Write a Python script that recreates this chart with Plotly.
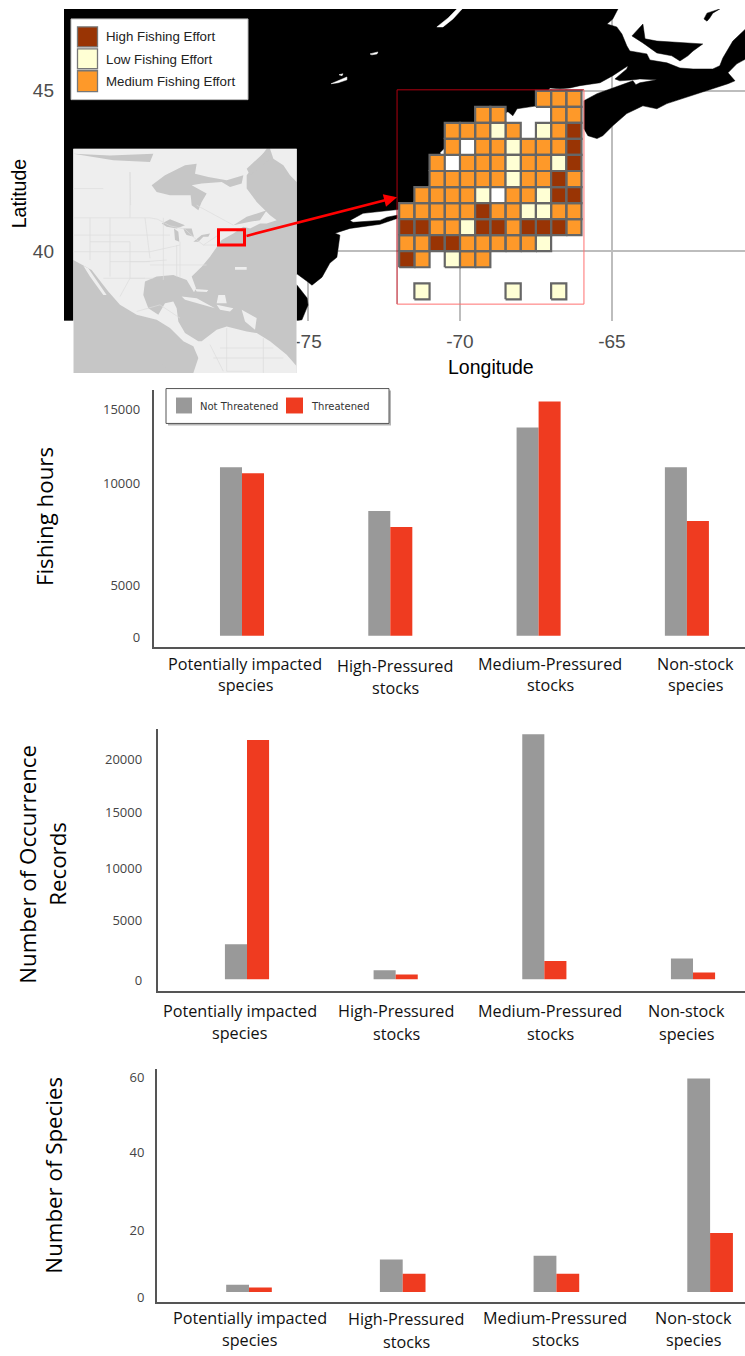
import plotly.graph_objects as go

W, H = 745, 1356

# ---------- data ----------
categories = ["Potentially impacted|species", "High-Pressured|stocks", "Medium-Pressured|stocks", "Non-stock|species"]
hours_not = [11050, 8170, 13660, 11050]
hours_thr = [10650, 7120, 15360, 7520]
records_not = [3195, 840, 22260, 1900]
records_thr = [21750, 450, 1670, 630]
species_not = [2, 9, 10, 59]
species_thr = [1.2, 5, 5, 16.3]

effort_rows = [
    "         MMM",
    "     MM   MM",
    "   MMMLM LMH",
    "   M MMLMMMH",
    "  M MMMLMMLH",
    "  MMMMMLMMHM",
    " MMMML MMLHH",
    "MMMMMHMMLLMM",
    "HHMMLHHMHHHM",
    "MMHHMMMMML  ",
    "HM LMM      ",
    "            ",
    " L     L  L ",
]
effort_lon0, effort_lat0, effort_step = -72.0, 45.0, 0.5
effort_colors = {"H": "#993404", "L": "#ffffd4", "M": "#fe9929"}
effort_names = {"H": "High Fishing Effort", "L": "Low Fishing Effort", "M": "Medium Fishing Effort"}

coast_lon = [-84, -64.80, -64.97, -65.16, -64.84, -64.67, -64.51, -64.41, -63.85, -63.75, -63.19, -62.76, -62.33,
             -61.68, -61.45, -61.35, -61.02, -60.6, -60.6, -60.89, -61.18, -60.95, -61.18, -62.20, -63.19, -63.52,
             -63.98, -64.18, -64.51, -64.97, -65.30, -65.49, -65.79, -65.92, -65.92, -65.49, -64.31, -64.21, -64.08,
             -63.52, -64.08, -64.28, -64.74, -64.90, -64.51, -64.47, -64.97, -65.39, -66.05, -66.38, -66.71, -67.04,
             -67.47, -68.12, -68.26, -68.42, -70.43, -70.49, -70.66, -70.60, -70.76, -71.15, -71.65, -72.04, -73.19, -73.62,
             -73.52, -72.63, -72.40, -72.07, -72.07, -72.63, -73.62, -74.11, -73.95, -74.05, -74.28, -74.54, -74.87,
             -75.00, -75.36, -75.59, -75.36, -75.03, -75.00, -75.20, -75.36, -84]
coast_lat = [47.55, 47.55, 47.24, 47.08, 46.99, 46.77, 46.40, 46.24, 46.15, 45.96, 45.87, 45.71, 45.68,
             45.68, 45.78, 46.02, 46.55, 46.93, 45.99, 45.84, 45.56, 45.31, 45.22, 44.91, 44.60, 44.44,
             44.53, 44.44, 44.29, 43.91, 43.60, 43.51, 43.60, 43.82, 44.69, 44.91, 45.31, 45.19, 45.25,
             45.34, 45.37, 45.34, 45.31, 45.37, 45.68, 45.78, 45.47, 45.25, 45.16, 45.09, 45.06, 45.09,
             44.53, 44.44, 44.22, 44.35, 43.45, 43.23, 43.07, 42.95, 42.36, 41.89, 41.43, 41.30, 41.18, 40.96,
             40.90, 40.96, 41.06, 41.12, 41.02, 40.84, 40.71, 40.56, 40.50, 39.81, 39.63, 39.19, 38.94,
             39.04, 39.29, 39.10, 38.94, 38.54, 38.32, 37.86, 37.83, 37.83]
island_lon = [-64.34, -63.98, -63.91, -63.52, -62.01, -62.33, -62.50, -62.76, -63.03, -63.52, -63.98, -64.34, None,
              -61.97, -61.87, -61.45, -61.68, -61.78, -61.87, -61.97]
island_lat = [46.71, 47.08, 46.62, 46.55, 46.46, 46.24, 46.09, 45.93, 46.09, 46.18, 46.49, 46.71, None,
              47.24, 47.42, 47.55, 47.42, 47.27, 47.17, 47.24]
lake_lon = [-70.76, -70.39, -70.10, -69.93, -70.23, -70.56, -70.76, None, -72.96, -72.70, -72.73, -72.90, -72.96, None,
            -74.24, -73.72, -73.72, -74.01, -74.24, None, -73.98, -73.85, -73.88, -73.98]
lake_lat = [46.99, 47.27, 47.55, 47.55, 47.24, 46.99, 46.99, None, 46.15, 46.21, 46.15, 46.12, 46.15, None,
            45.22, 45.43, 45.34, 45.25, 45.22, None, 45.50, 45.53, 45.47, 45.50]

# locator map outlines, in the locator's own map units
inset_land_x = [10, 590, 530, 530, 560, 600, 620, 590, 570, 540, 520, 490, 455, 445, 420, 395, 365, 378, 372, 350, 310, 260, 225,
                220, 235, 265, 285, 310, 320, 325, 345, 385, 395, 440, 470, 530, 560, 600, 650, 680, 680, 370, 385, 370, 340,
                300, 260, 200, 150, 115, 65, 10, 10]
inset_land_y = [10, 10, 90, 130, 170, 210, 225, 235, 235, 250, 245, 265, 285, 300, 335, 365, 395, 430, 442, 405, 390, 395, 410,
                450, 490, 510, 475, 470, 490, 530, 565, 590, 590, 555, 545, 560, 565, 590, 630, 665, 685, 685, 640, 605, 590,
                550, 525, 510, 480, 440, 375, 345, 10]
inset_isle_x = [40, 55, 110, 100, 60, 40, None, 335, 380, 435, 400, 345, 335, None, 440, 490, 480, 450, 440, None,
                445, 465, 470, 440, 445, None, 600, 680, 680, 660, 640, 610, 600, None, 515, 560, 555, 525, 515, None,
                495, 530, 530, 495, 495, None, 375, 415, 410, 380, 375]
inset_isle_y = [362, 370, 450, 450, 395, 362, None, 455, 460, 490, 480, 465, 455, None, 480, 490, 500, 495, 480, None,
                450, 450, 475, 475, 450, None, 10, 10, 110, 90, 60, 40, 10, None, 495, 520, 555, 530, 495, None,
                366, 366, 374, 374, 366, None, 432, 435, 441, 440, 432]
inset_water_x = [245, 285, 345, 380, 375, 415, 470, 520, 515, 480, 455, 395, 365, 410, 395, 385, 365, 362, 300, 260, 245, None,
                 490, 530, 590, 570, 540, 510, 490, None, 275, 300, 345, 320, 290, 275, None, 312, 325, 328, 315, 312, None,
                 340, 365, 372, 350, 345, 340, None, 370, 395, 420, 415, 400, 385, 370, None,
                 10, 120, 250, 240, 130, 10, None, 595, 600, 540, 530, 595, None, 270, 300, 290, 270]
inset_water_y = [120, 90, 60, 55, 85, 95, 105, 90, 115, 125, 110, 115, 120, 145, 170, 195, 180, 150, 150, 140, 120, None,
                 240, 215, 195, 225, 230, 235, 240, None, 235, 222, 240, 250, 245, 235, None, 250, 260, 290, 285, 250, None,
                 250, 250, 275, 270, 262, 250, None, 290, 270, 265, 275, 275, 290, 290, None,
                 25, 30, 25, 50, 45, 25, None, 10, 40, 90, 70, 10, None, 655, 655, 672, 655]
border_x = [10, 240, 262, 300, None, 300, 345, 375, 400, 445, None, 60, 60, None, 120, 120, None, 180, 180, None, 225, 240, None, 10, 300, None,
            10, 240, None, 240, 330, None, 280, 280, None, 330, 330, None, 400, 440, None, 120, 225, 290, None, 100, 225, None, 180, 180, None,
            60, 180, 180, 240, None, 320, 320, None, 10, 100, None, 240, 410, None, 150, 180, 250, None, 200, 270, 330, None, 420, 460, None,
            450, 610, None, 470, 470, 540, None, 580, 580, None, 430, 640, None, 180, 182, None, 380, 490]
border_y = [218, 218, 222, 242, None, 242, 252, 280, 300, 270, None, 218, 345, None, 218, 395, None, 80, 218, None, 218, 340, None, 270, 270, None,
            320, 320, None, 320, 300, None, 218, 405, None, 290, 395, None, 300, 300, None, 350, 350, 345, None, 400, 400, None, 350, 400, None,
            290, 290, 350, 350, None, 300, 395, None, 130, 130, None, 360, 360, None, 455, 400, 400, None, 500, 480, 520, None, 600, 680, None,
            610, 610, None, 550, 680, 680, None, 580, 685, None, 640, 640, None, 80, 180, None, 180, 240]

map_y_labels = ["40", "45"]
map_y_vals = [40, 45]
map_x_labels = ["-75", "-70", "-65"]
map_x_vals = [-75, -70, -65]

# ---------- helpers ----------
def px(v): return v / W
def py(v): return 1 - v / H

fig = go.Figure()
shapes, annotations = [], []

def text(x, y, s, size, family, color="#000000", angle=0, xanchor="center"):
    annotations.append(dict(x=px(x), y=py(y), xref="paper", yref="paper", text=s, showarrow=False,
                            xanchor=xanchor, yanchor="middle", textangle=angle,
                            font=dict(size=size, family=family, color=color)))

def rect(x0, y0, x1, y1, fill=None, line=None, lw=1):
    shapes.append(dict(type="rect", xref="paper", yref="paper", x0=px(x0), x1=px(x1), y0=py(y0), y1=py(y1),
                       fillcolor=fill or "rgba(0,0,0,0)", line=dict(color=line or "rgba(0,0,0,0)", width=lw if line else 0),
                       layer="above"))

ARIAL = "Liberation Sans, Arial, sans-serif"
HEAD = "Open Sans, sans-serif"

# ---------- map ----------
fig.add_trace(go.Scatter(x=coast_lon, y=coast_lat, mode="lines", fill="toself", fillcolor="#000000",
                         line=dict(color="#000000", width=0.5), hoverinfo="skip", showlegend=False, xaxis="x", yaxis="y"))
fig.add_trace(go.Scatter(x=island_lon, y=island_lat, mode="lines", fill="toself", fillcolor="#000000",
                         line=dict(color="#000000", width=0.5), hoverinfo="skip", showlegend=False, xaxis="x", yaxis="y"))
fig.add_trace(go.Scatter(x=lake_lon, y=lake_lat, mode="lines", fill="toself", fillcolor="#ffffff",
                         line=dict(color="#ffffff", width=0.5), hoverinfo="skip", showlegend=False, xaxis="x", yaxis="y"))

for level in ["M", "L", "H"]:
    xs, ys = [], []
    for r, row in enumerate(effort_rows):
        for c, code in enumerate(row):
            if code == level:
                x0 = effort_lon0 + c * effort_step
                y1 = effort_lat0 - r * effort_step
                x1, y0 = x0 + effort_step, y1 - effort_step
                xs += [x0, x1, x1, x0, x0, None]
                ys += [y0, y0, y1, y1, y0, None]
    fig.add_trace(go.Scatter(x=xs, y=ys, mode="lines", fill="toself", fillcolor=effort_colors[level],
                             line=dict(color="#666666", width=2.2), name=effort_names[level],
                             showlegend=False, hoverinfo="name", xaxis="x", yaxis="y"))

# study-area frame
fig.add_trace(go.Scatter(x=[-72.07, -72.07, -65.92], y=[38.35, 45.03, 45.03], mode="lines",
                         line=dict(color="#b00010", width=1), hoverinfo="skip", showlegend=False, xaxis="x", yaxis="y"))
fig.add_trace(go.Scatter(x=[-72.07, -65.92, -65.92], y=[38.35, 38.35, 45.03], mode="lines",
                         line=dict(color="#ff7070", width=1), hoverinfo="skip", showlegend=False, xaxis="x", yaxis="y"))

# ---------- bars ----------
GREY, RED = "#999999", "#ef3b20"
names = ["Not Threatened", "Threatened"]
for i, (a, b) in enumerate([(hours_not, hours_thr), (records_not, records_thr), (species_not, species_thr)], start=2):
    for vals, col, nm in [(a, GREY, names[0]), (b, RED, names[1])]:
        fig.add_trace(go.Bar(x=list(range(4)), y=vals, marker=dict(color=col, line=dict(width=0)), name=nm,
                             showlegend=False, xaxis=f"x{i}", yaxis=f"y{i}"))

# ---------- locator ----------
fig.add_trace(go.Scatter(x=[10, 680, 680, 10, 10], y=[10, 10, 685, 685, 10], mode="lines", fill="toself", fillcolor="#c6c6c6",
                         line=dict(width=0), hoverinfo="skip", showlegend=False, xaxis="x5", yaxis="y5"))
for xs, ys, col in [(inset_land_x, inset_land_y, "#eeeeee"), (inset_isle_x, inset_isle_y, "#eeeeee"),
                    (inset_water_x, inset_water_y, "#c6c6c6")]:
    fig.add_trace(go.Scatter(x=xs, y=ys, mode="lines", fill="toself", fillcolor=col, line=dict(width=0),
                             hoverinfo="skip", showlegend=False, xaxis="x5", yaxis="y5"))
fig.add_trace(go.Scatter(x=border_x, y=border_y, mode="lines", line=dict(color="#dcdcdc", width=0.7),
                         hoverinfo="skip", showlegend=False, xaxis="x5", yaxis="y5"))

# ---------- overlays ----------
rect(71, 18, 248, 99, fill="#ffffff", line="#bbbbbb", lw=1)
for (y0, y1, code, ty) in [(26, 46, "H", 36), (48, 68, "L", 59), (70, 91, "M", 81)]:
    rect(77.5, y0, 97.5, y1, fill=effort_colors[code], line="#777777", lw=1.3)
    text(103.5, ty, effort_names[code], 13.3, ARIAL, "#222222", xanchor="left")

rect(218.5, 229.5, 244.5, 245, line="#ff0000", lw=3)
annotations.append(dict(x=px(397), y=py(197), ax=245 - 397, ay=236 - 197, xref="paper", yref="paper", axref="pixel", ayref="pixel",
                        text="", showarrow=True, arrowhead=2, arrowsize=1, arrowwidth=2.6, arrowcolor="#ff0000", standoff=0))

# chart-1 legend
rect(168, 391, 391, 426, fill="#b5b5b5")
rect(166, 389, 389, 424, fill="#ffffff", line="#555555", lw=1)
rect(176, 398, 192, 414, fill=GREY)
rect(286, 398, 303, 414, fill=RED)
text(197.5, 407, "Not Threatened", 10, "DejaVu Sans, sans-serif", "#333333", xanchor="left")
text(308.5, 407, "Threatened", 10, "DejaVu Sans, sans-serif", "#333333", xanchor="left")

text(19, 194, "Latitude", 19.5, ARIAL, angle=-90)
text(491, 367, "Longitude", 19.5, ARIAL)

text(44, 518, "Fishing hours", 22.3, HEAD, angle=-90)
text(28, 867, "Number of Occurrence", 22.3, HEAD, angle=-90)
text(58, 866, "Records", 22.3, HEAD, angle=-90)
text(54, 1179, "Number of Species", 22.3, HEAD, angle=-90)

label_sets = [
    ([245, 395, 550, 695], [665, 667, 665, 665], [687, 690, 687, 687]),
    ([239.5, 396, 550, 686], [1014, 1014, 1014, 1014], [1036, 1037, 1037, 1037]),
    ([249.5, 406, 555, 693], [1322, 1323, 1322, 1322], [1344, 1346, 1344, 1344]),
]
for xs, y1s, y2s in label_sets:
    for cat, x, y1, y2 in zip(categories, xs, y1s, y2s):
        l1, l2 = cat.split("|")
        text(x, y1, l1, 16.2, HEAD, "#111111")
        text(x, y2, l2, 16.2, HEAD, "#111111")

# ---------- axes ----------
def dom_x(a, b): return [px(a), px(b)]
def dom_y(top, bottom): return [py(bottom), py(top)]

AX = "#555555"
TICKF = dict(size=13, family=HEAD, color="#444444")

def bar_axes(n, left, top, bottom, base, scale, c0, pitch, width, tick_pos, tick_lab, standoff):
    xr = [(left - c0) / pitch, (W - c0) / pitch]
    yr = [-(bottom - base) / scale, (base - top) / scale]
    return {
        f"xaxis{n}": dict(domain=dom_x(left, W), range=xr, anchor=f"y{n}", showgrid=False, zeroline=False, showline=True,
                          linecolor=AX, linewidth=1.5, showticklabels=False, ticks=""),
        f"yaxis{n}": dict(domain=dom_y(top, bottom), range=yr, anchor=f"x{n}", showgrid=False, zeroline=False, showline=True,
                          linecolor=AX, linewidth=1.5, tickmode="array", tickvals=tick_pos, ticktext=tick_lab,
                          tickfont=TICKF, ticks="", ticklabelstandoff=standoff),
    }

layout_axes = dict(
    xaxis=dict(domain=dom_x(64, W), range=[-83.03, -60.62], anchor="y", tickmode="array", tickvals=map_x_vals, ticktext=map_x_labels,
               tickfont=dict(size=19, family=ARIAL, color="#4d4d4d"), showgrid=True, gridcolor="#bdbdbd", gridwidth=2,
               zeroline=False, ticks="", ticklabelstandoff=7, showline=False),
    yaxis=dict(domain=dom_y(8, 321), range=[37.83, 47.55], anchor="x", tickmode="array", tickvals=map_y_vals, ticktext=map_y_labels,
               tickfont=dict(size=19, family=ARIAL, color="#4d4d4d"), showgrid=True, gridcolor="#bdbdbd", gridwidth=2,
               zeroline=False, ticks="", ticklabelstandoff=9, showline=False),
    xaxis5=dict(domain=dom_x(73.3, 296.7), range=[10, 680], anchor="y5", visible=False, fixedrange=True),
    yaxis5=dict(domain=dom_y(148.3, 373.3), range=[685, 10], anchor="x5", visible=False, fixedrange=True),
)
layout_axes.update(bar_axes(2, 153.5, 390, 648, 637, 0.0153, 242, 148.3, 44,
                            [14870, 10000, 3300, -100], ["15000", "10000", "5000", "0"], 9))
layout_axes.update(bar_axes(3, 157.5, 731, 994, 982, 0.01105, 247, 148.67, 44,
                            [20000, 15180, 10090, 5380, -90], ["20000", "15000", "10000", "5000", "0"], 11))
layout_axes.update(bar_axes(4, 156.7, 1072, 1306, 1295.7, 3.63, 249, 153.7, 46,
                            [59.4, 38.5, 17.1, -1.6], ["60", "40", "20", "0"], 8))

fig.update_layout(
    width=W, height=H, autosize=False, margin=dict(l=0, r=0, t=0, b=0, pad=0),
    paper_bgcolor="#ffffff", plot_bgcolor="#ffffff", showlegend=False,
    barmode="group", bargap=0.703, bargroupgap=0,
    shapes=shapes, annotations=annotations, **layout_axes,
)

fig.write_html("out.html", config={"displayModeBar": False},
               post_script="document.body.style.margin='0';document.body.style.overflow='hidden';")
